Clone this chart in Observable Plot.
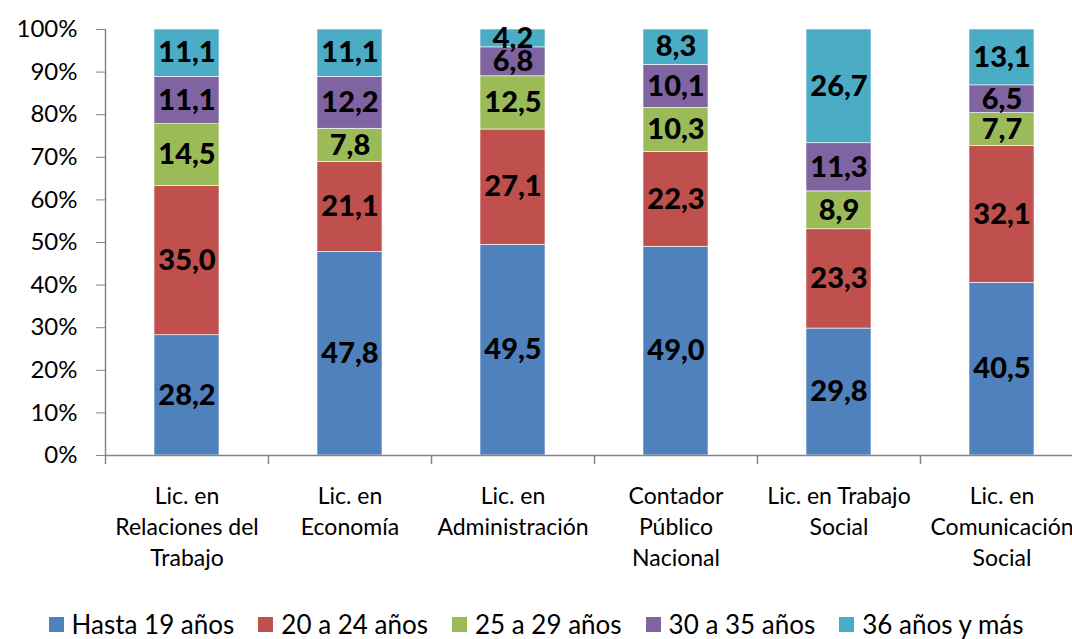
<!DOCTYPE html>
<html>
<head>
<meta charset="utf-8">
<script src="https://cdn.jsdelivr.net/npm/d3@7"></script>
<script src="https://cdn.jsdelivr.net/npm/@observablehq/plot@0.6"></script>
<style>
  html, body { margin: 0; padding: 0; background: #fff; overflow: hidden; }
  body { width: 1072px; height: 639px; font-family: Lato, "DejaVu Sans", sans-serif; }
  #legend { display: flex; justify-content: center; align-items: center; height: 38px; margin-top: 4px; font-size: 26px; color: #000; gap: 24px; }
  #legend .item { display: flex; align-items: center; }
  #legend .sw { width: 15px; height: 15px; margin-right: 8px; }
</style>
</head>
<body>
<div id="chart"></div>
<div id="legend"></div>
<script>
const categories = [
  "Lic. en Relaciones del Trabajo",
  "Lic. en Economía",
  "Lic. en Administración",
  "Contador Público Nacional",
  "Lic. en Trabajo Social",
  "Lic. en Comunicación Social"
];
const categoryLabels = [
  "Lic. en\nRelaciones del\nTrabajo",
  "Lic. en\nEconomía",
  "Lic. en\nAdministración",
  "Contador\nPúblico\nNacional",
  "Lic. en Trabajo\nSocial",
  "Lic. en\nComunicación\nSocial"
];
const series = ["Hasta 19 años", "20 a 24 años", "25 a 29 años", "30 a 35 años", "36 años y más"];
const colors = ["#4F81BD", "#C0504D", "#9BBB59", "#8064A2", "#4BACC6"];

const hasta19 = [28.2, 47.8, 49.5, 49.0, 29.8, 40.5];
const de20a24 = [35.0, 21.1, 27.1, 22.3, 23.3, 32.1];
const de25a29 = [14.5, 7.8, 12.5, 10.3, 8.9, 7.7];
const de30a35 = [11.1, 12.2, 6.8, 10.1, 11.3, 6.5];
const de36ymas = [11.1, 11.1, 4.2, 8.3, 26.7, 13.1];
const yTicks = [0, 0.1, 0.2, 0.3, 0.4, 0.5, 0.6, 0.7, 0.8, 0.9, 1.0];

const seriesValues = [hasta19, de20a24, de25a29, de30a35, de36ymas];
const data = [];
categories.forEach((cat, i) => {
  series.forEach((s, j) => data.push({cat, series: s, value: seriesValues[j][i]}));
});

const W = 1072, H = 601, mL = 105, mR = -11, mT = 29, mB = 146;
const step = (W - mL - mR) / categories.length;
const axisGray = "#868686";
const fmt = v => v.toFixed(1).replace(".", ",");

const chart = Plot.plot({
  width: W,
  height: H,
  marginLeft: mL,
  marginRight: mR,
  marginTop: mT,
  marginBottom: mB,
  style: {fontFamily: "Lato, 'DejaVu Sans', sans-serif", background: "#fff", color: "#000"},
  x: {domain: categories, paddingInner: 0.6, paddingOuter: 0.3, axis: null, label: null},
  y: {domain: [0, 1], axis: null, label: null},
  color: {domain: series, range: colors},
  marks: [
    Plot.barY(data, Plot.stackY({x: "cat", y: "value", z: "series", fill: "series", offset: "normalize", stroke: "#fff", strokeWidth: 0.6})),
    Plot.text(data, Plot.stackY({x: "cat", y: "value", z: "series", offset: "normalize",
      text: d => fmt(d.value), fontSize: 29, fontWeight: 900, fill: "#000"})),
    Plot.ruleY([0], {stroke: axisGray, strokeWidth: 1.5}),
    Plot.ruleX([categories[0]], {x: d => d, dx: -step / 2, y1: 0, y2: 1, stroke: axisGray, strokeWidth: 1.5}),
    Plot.ruleX(categories, {x: d => d, dx: -step / 2, y1: 0, y2: 0, insetBottom: -9, stroke: axisGray, strokeWidth: 1.5}),
    Plot.axisY({ticks: yTicks, label: null, tickSize: 9, tickPadding: 19, tickFormat: d => Math.round(d * 100) + "%", stroke: axisGray, fill: "#000", fontSize: 24}),
    Plot.axisX({domain: categories, label: null, tickSize: 0, tickPadding: 26, tickFormat: d => categoryLabels[categories.indexOf(d)], fontSize: 23, lineHeight: 1.35, fill: "#000"})
  ]
});
document.getElementById("chart").appendChild(chart);

const legend = document.getElementById("legend");
series.forEach((s, i) => {
  const item = document.createElement("div");
  item.className = "item";
  const sw = document.createElement("div");
  sw.className = "sw";
  sw.style.background = colors[i];
  const t = document.createElement("span");
  t.textContent = s;
  item.appendChild(sw);
  item.appendChild(t);
  legend.appendChild(item);
});
</script>
</body>
</html>
